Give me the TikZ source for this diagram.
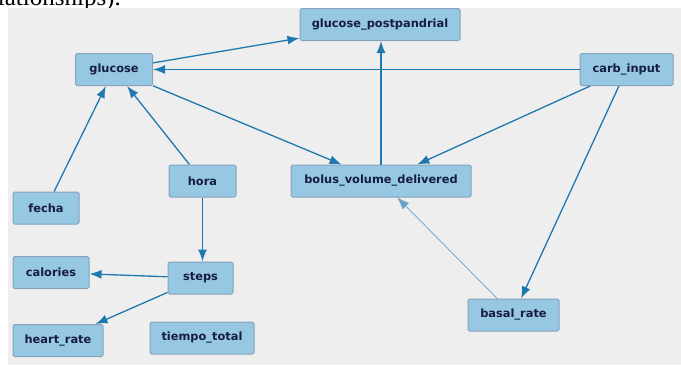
\documentclass[tikz,border=0pt]{standalone}
\usepackage{fontspec}
\setmainfont{Liberation Serif}
\setsansfont{DejaVu Sans}
\usepackage{xcolor}
\usetikzlibrary{arrows.meta, positioning}
\definecolor{panelgray}{RGB}{238,238,238}
\definecolor{nodeblue}{RGB}{150,199,227}
\definecolor{nodeborder}{RGB}{135,162,185}
\definecolor{edgeblue}{RGB}{32,120,176}
\definecolor{thinblue}{RGB}{105,160,200}
\definecolor{labelnavy}{RGB}{22,28,68}

\begin{document}
\begin{tikzpicture}[x=1pt, y=-1pt,
    var/.style={draw=nodeborder, line width=1pt, rectangle, rounded corners=1.5pt, fill=nodeblue,
        minimum height=32pt, inner sep=0pt, text=labelnavy,
        font=\sffamily\bfseries\fontsize{11.4}{13}\selectfont},
    link/.style={draw=edgeblue, line width=1.3pt, -{Latex[length=12pt, width=9pt]}},
    weak/.style={link, draw=thinblue, line width=0.7pt}
]
\useasboundingbox (0,0) rectangle (681,365);
\fill[panelgray] (8,8) rectangle (681,365);

% cut-off caption line above the panel
\begin{scope}
\clip (0,0) rectangle (681,7.5);
\node[anchor=base east, inner sep=0pt, font=\fontsize{25}{28}\selectfont] (caption) at (121,5.5) {relationships).};
\end{scope}

\node[var, minimum width=160pt] (gpost) at (380,24.5) {glucose\_postpandrial};
\node[var, minimum width=77pt] (glucose) at (114,69.5) {glucose};
\node[var, minimum width=93pt] (carb) at (626.5,69.5) {carb\_input};
\node[var, minimum width=67pt] (hora) at (202.5,181) {hora};
\node[var, minimum width=180pt] (bolus) at (381,181) {bolus\_volume\_delivered};
\node[var, minimum width=66pt] (fecha) at (46,208) {fecha};
\node[var, minimum width=76pt] (calories) at (51,272.5) {calories};
\node[var, minimum width=65pt] (steps) at (200.5,278) {steps};
\node[var, minimum width=90pt] (heart) at (58,340.5) {heart\_rate};
\node[var, minimum width=104pt] (tiempo) at (202,338) {tiempo\_total};
\node[var, minimum width=91pt] (basal) at (513.5,315) {basal\_rate};

\draw[link] (glucose) -- (gpost);
\draw[link] (carb) -- (glucose);
\draw[link] (glucose) -- (bolus);
\draw[link] (fecha) -- (glucose);
\draw[link] (hora) -- (glucose);
\draw[link] (bolus.north) -- (bolus.north |- gpost.south);
\draw[link] (carb) -- (bolus);
\draw[link] (carb) -- (basal);
\draw[weak] (basal) -- (bolus);
\draw[link] (hora.south) -- (hora.south |- steps.north);
\draw[link] (steps) -- (calories);
\draw[link] (steps) -- (heart);

\end{tikzpicture}
\end{document}
